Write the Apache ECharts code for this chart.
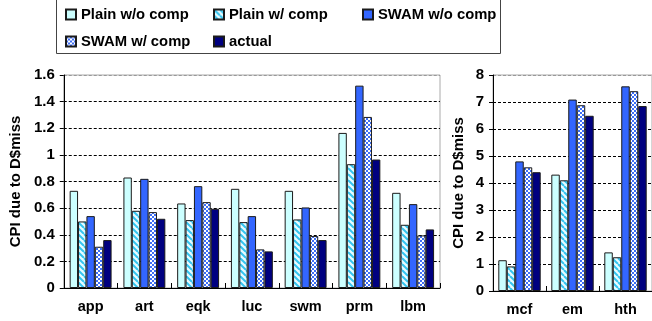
<!DOCTYPE html>
<html>
<head>
<meta charset="utf-8">
<script src="https://cdn.jsdelivr.net/npm/echarts@6/dist/echarts.min.js"></script>
<style>html,body{margin:0;padding:0;background:#fff;}#c{width:652px;height:321px;}</style>
</head>
<body>
<div id="c"></div>
<script>
const leftCategories = ['app', 'art', 'eqk', 'luc', 'swm', 'prm', 'lbm'];
const rightCategories = ['mcf', 'em', 'hth'];
const seriesNames = ['Plain w/o comp', 'Plain w/ comp', 'SWAM w/o comp', 'SWAM w/ comp', 'actual'];

const leftPlainNoComp = [0.73, 0.83, 0.635, 0.745, 0.73, 1.165, 0.715];
const leftPlainComp   = [0.50, 0.58, 0.51, 0.495, 0.515, 0.93, 0.475];
const leftSwamNoComp  = [0.54, 0.82, 0.765, 0.54, 0.605, 1.52, 0.63];
const leftSwamComp    = [0.31, 0.57, 0.645, 0.29, 0.39, 1.285, 0.395];
const leftActual      = [0.36, 0.52, 0.595, 0.275, 0.36, 0.965, 0.44];

const rightPlainNoComp = [1.14, 4.31, 1.43];
const rightPlainComp   = [0.91, 4.10, 1.25];
const rightSwamNoComp  = [4.80, 7.09, 7.58];
const rightSwamComp    = [4.58, 6.88, 7.40];
const rightActual      = [4.40, 6.49, 6.85];

const leftTicks = { min: 0, max: 1.6, interval: 0.2 };
const rightTicks = { min: 0, max: 8, interval: 1 };

function stripeCanvas() {
  const c = document.createElement('canvas');
  c.width = 6; c.height = 6;
  const g = c.getContext('2d');
  g.fillStyle = '#e8fbff'; g.fillRect(0, 0, 6, 6);
  g.strokeStyle = '#33c4f0'; g.lineWidth = 2;
  for (const k of [-6, 0, 6]) {
    g.beginPath(); g.moveTo(k, 0); g.lineTo(k + 6, 6); g.stroke();
  }
  return c;
}
function checkCanvas() {
  const c = document.createElement('canvas');
  c.width = 4; c.height = 4;
  const g = c.getContext('2d');
  g.fillStyle = '#ffffff'; g.fillRect(0, 0, 4, 4);
  g.fillStyle = '#3d6ef5';
  g.fillRect(0, 0, 2, 2); g.fillRect(2, 2, 2, 2);
  return c;
}

const fills = [
  '#ccffff',
  { image: stripeCanvas(), repeat: 'repeat' },
  '#3366ff',
  { image: checkCanvas(), repeat: 'repeat' },
  '#000080'
];

const FONT = "'Liberation Sans', Arial, sans-serif";
const leftData = [leftPlainNoComp, leftPlainComp, leftSwamNoComp, leftSwamComp, leftActual];
const rightData = [rightPlainNoComp, rightPlainComp, rightSwamNoComp, rightSwamComp, rightActual];

function makeSeries(dataArr, idx, gap) {
  return dataArr.map((d, i) => ({
    name: seriesNames[i],
    type: 'bar',
    xAxisIndex: idx, yAxisIndex: idx,
    data: d,
    barGap: '0%',
    barCategoryGap: gap,
    itemStyle: { color: fills[i], borderColor: '#1a1a1a', borderWidth: 1 },
    emphasis: { disabled: true },
    animation: false
  }));
}

const gridColors = ['#000', '#000', '#000', '#000', '#000', '#000', '#000', '#000', '#999'];

function xAxis(idx, cats) {
  return {
    type: 'category', gridIndex: idx, data: cats,
    axisLine: { lineStyle: { color: '#000', width: 1 } },
    axisTick: { show: true, inside: true, length: 5, lineStyle: { color: '#000' } },
    axisLabel: { fontFamily: FONT, fontWeight: 'bold', fontSize: 14.5, color: '#000', margin: 11 }
  };
}
function yAxis(idx, t, gap, fmt) {
  return {
    type: 'value', gridIndex: idx, min: t.min, max: t.max, interval: t.interval,
    name: 'CPI due to D$miss', nameLocation: 'middle', nameGap: gap, nameRotate: 90,
    nameTextStyle: { fontFamily: FONT, fontWeight: 'bold', fontSize: 15, color: '#000' },
    axisLine: { show: true, lineStyle: { color: '#000', width: 1 } },
    axisTick: { show: true, length: 4, lineStyle: { color: '#000' } },
    axisLabel: { fontFamily: FONT, fontWeight: 'bold', fontSize: 15, color: '#000', margin: 9, formatter: fmt },
    splitLine: { show: true, lineStyle: { color: gridColors, type: [3, 2], width: 1 } }
  };
}

const legendText = { fontFamily: FONT, fontWeight: 'bold', fontSize: 14.8, color: '#000', lineHeight: 17 };
function legend(left, names) {
  return {
    orient: 'vertical', left: left, top: 6, padding: 0,
    itemWidth: 10, itemHeight: 10, itemGap: 10, icon: 'rect',
    data: names, textStyle: legendText, selectedMode: false
  };
}

const chart = echarts.init(document.getElementById('c'), null, { renderer: 'canvas' });
chart.setOption({
  backgroundColor: '#fff',
  animation: false,
  legend: [
    legend(65, [seriesNames[0], seriesNames[3]]),
    legend(213, [seriesNames[1], seriesNames[4]]),
    legend(362, [seriesNames[2]])
  ],
  graphic: [{
    type: 'rect', left: 56, top: -1, z: -1,
    shape: { width: 444, height: 54 },
    style: { fill: '#fff', stroke: '#444', lineWidth: 1 }
  }],
  grid: [
    { left: 59, top: 75, width: 381, height: 213, show: true, borderColor: '#aaa', borderWidth: 1, containLabel: false },
    { left: 493, top: 75, width: 160, height: 216, show: true, borderColor: '#aaa', borderWidth: 1, containLabel: false }
  ],
  xAxis: [xAxis(0, leftCategories), xAxis(1, rightCategories)],
  yAxis: [
    yAxis(0, leftTicks, 37, v => (v === 0 ? '0' : (Math.round(v * 10) / 10).toString())),
    yAxis(1, rightTicks, 27, v => v.toString())
  ],
  series: [...makeSeries(leftData, 0, '22%'), ...makeSeries(rightData, 1, '20%')]
});
</script>
</body>
</html>
